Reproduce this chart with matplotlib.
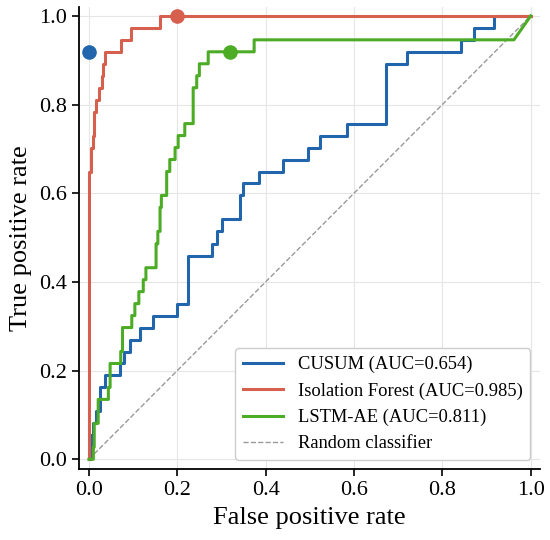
import matplotlib
matplotlib.use("Agg")
import matplotlib.pyplot as plt

plt.rcParams['font.family'] = ['Liberation Serif', 'DejaVu Serif']

# ROC vertices (fpr, tpr)
cusum_fpr = [0.0, 0.004, 0.004, 0.010, 0.010, 0.017, 0.017, 0.026, 0.026, 0.036, 0.036,
             0.070, 0.070, 0.080, 0.080, 0.093, 0.093, 0.115, 0.115, 0.146, 0.146,
             0.200, 0.200, 0.225, 0.225, 0.278, 0.278, 0.289, 0.289, 0.302, 0.302,
             0.343, 0.343, 0.349, 0.349, 0.385, 0.385, 0.440, 0.440, 0.496, 0.496,
             0.524, 0.524, 0.584, 0.584, 0.672, 0.672, 0.720, 0.720, 0.843, 0.843,
             0.872, 0.872, 0.917, 0.917, 1.0]
cusum_tpr = [0.0, 0.0, 0.054, 0.054, 0.081, 0.081, 0.108, 0.108, 0.162, 0.162, 0.189,
             0.189, 0.216, 0.216, 0.243, 0.243, 0.270, 0.270, 0.297, 0.297, 0.324,
             0.324, 0.351, 0.351, 0.459, 0.459, 0.486, 0.486, 0.514, 0.514, 0.541,
             0.541, 0.595, 0.595, 0.622, 0.622, 0.649, 0.649, 0.676, 0.676, 0.703,
             0.703, 0.730, 0.730, 0.757, 0.757, 0.892, 0.892, 0.919, 0.919, 0.946,
             0.946, 0.973, 0.973, 1.0, 1.0]

iforest_fpr = [0.0, 0.0, 0.001, 0.001, 0.0045, 0.0045, 0.010, 0.010, 0.012, 0.012,
               0.016, 0.016, 0.023, 0.023, 0.029, 0.029, 0.032, 0.032, 0.036, 0.036,
               0.072, 0.072, 0.095, 0.095, 0.161, 0.161, 1.0]
iforest_tpr = [0.0, 0.595, 0.595, 0.649, 0.649, 0.703, 0.703, 0.730, 0.730, 0.784,
               0.784, 0.811, 0.811, 0.838, 0.838, 0.865, 0.865, 0.892, 0.892, 0.919,
               0.919, 0.946, 0.946, 0.973, 0.973, 1.0, 1.0]

lstm_fpr = [0.0, 0.010, 0.010, 0.012, 0.012, 0.021, 0.021, 0.044, 0.044, 0.048, 0.048,
            0.072, 0.072, 0.076, 0.076, 0.097, 0.097, 0.104, 0.104, 0.113, 0.113,
            0.123, 0.123, 0.129, 0.129, 0.152, 0.152, 0.156, 0.156, 0.161, 0.161,
            0.164, 0.164, 0.176, 0.176, 0.183, 0.183, 0.195, 0.195, 0.202, 0.202,
            0.217, 0.217, 0.236, 0.236, 0.244, 0.244, 0.250, 0.250, 0.270, 0.270,
            0.374, 0.374, 0.962, 1.0]
lstm_tpr = [0.0, 0.0, 0.027, 0.027, 0.081, 0.081, 0.135, 0.135, 0.162, 0.162, 0.216,
            0.216, 0.243, 0.243, 0.297, 0.297, 0.324, 0.324, 0.351, 0.351, 0.378,
            0.378, 0.405, 0.405, 0.432, 0.432, 0.486, 0.486, 0.514, 0.514, 0.568,
            0.568, 0.595, 0.595, 0.649, 0.649, 0.676, 0.676, 0.703, 0.703, 0.730,
            0.730, 0.757, 0.757, 0.838, 0.838, 0.865, 0.865, 0.892, 0.892, 0.919,
            0.919, 0.946, 0.946, 1.0]

labels = ["CUSUM (AUC=0.654)", "Isolation Forest (AUC=0.985)", "LSTM-AE (AUC=0.811)"]
colors = ["#2166ac", "#d6604d", "#4dac26"]
# operating points
op_fpr = [0.0, 0.200, 0.319]
op_tpr = [0.919, 1.0, 0.919]

fig = plt.figure(figsize=(5.5, 5.4), dpi=100)
ax = fig.add_axes([0.144, 0.1315, 0.837, 0.8555])

curves = [(cusum_fpr, cusum_tpr), (iforest_fpr, iforest_tpr), (lstm_fpr, lstm_tpr)]
for (fx, ty), lab, col in zip(curves, labels, colors):
    ax.plot(fx, ty, color=col, lw=2.2, label=lab, zorder=3)
ax.plot([0, 1], [0, 1], ls='--', color='#999999', lw=1.0, label='Random classifier', zorder=2)
for x, y, col in zip(op_fpr, op_tpr, colors):
    ax.plot([x], [y], 'o', color=col, ms=9.5, zorder=4)

ax.set_xlim(-0.022, 1.02)
ax.set_ylim(-0.022, 1.02)
ax.set_xticks([0, 0.2, 0.4, 0.6, 0.8, 1.0])
ax.set_yticks([0, 0.2, 0.4, 0.6, 0.8, 1.0])
ax.set_xticklabels(["0.0", "0.2", "0.4", "0.6", "0.8", "1.0"])
ax.set_yticklabels(["0.0", "0.2", "0.4", "0.6", "0.8", "1.0"])
ax.grid(True, color='#e6e6e6', lw=0.8, zorder=0)
ax.set_axisbelow(True)
for s in ['top', 'right']:
    ax.spines[s].set_visible(False)
for s in ['left', 'bottom']:
    ax.spines[s].set_linewidth(1.3)
ax.tick_params(axis='both', labelsize=16, length=5, width=1.2, direction='out', pad=4)
ax.set_xlabel("False positive rate", fontsize=19, labelpad=5)
ax.set_ylabel("True positive rate", fontsize=19, labelpad=5)

leg = ax.legend(loc='lower right', fontsize=13.3, frameon=True, fancybox=True,
                edgecolor='#cccccc', framealpha=1.0, handlelength=2.2, borderaxespad=0.5)
leg.get_frame().set_linewidth(1.0)

fig.savefig("out.png", dpi=100)
